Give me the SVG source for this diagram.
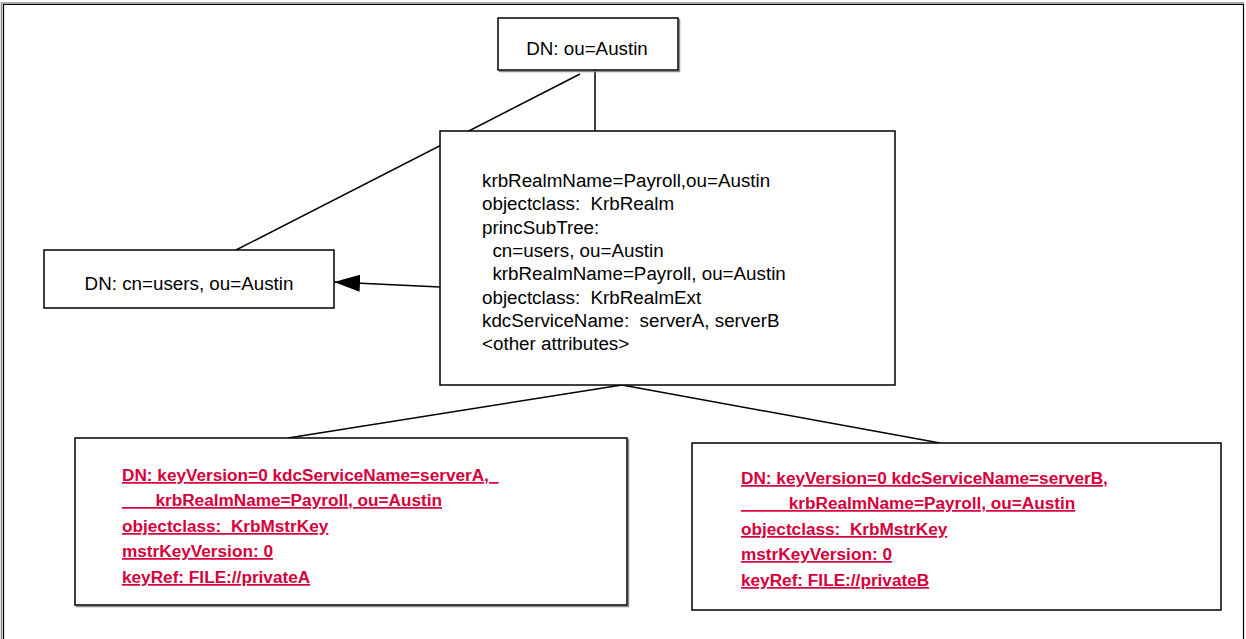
<svg xmlns="http://www.w3.org/2000/svg" width="1246" height="639" viewBox="0 0 1246 639">
  <style>
    .box { fill: #ffffff; stroke: #000000; stroke-width: 1.5; }
    .shadow { fill: none; stroke: #8a8a8a; stroke-width: 1.5; }
    .wire { fill: none; stroke: #000000; stroke-width: 1.5; }
    .label { font-family: "Liberation Sans", Arial, sans-serif; font-size: 18.8px; fill: #000000; white-space: pre; }
    .key { font-family: "Liberation Sans", Arial, sans-serif; font-size: 17.2px; font-weight: bold; fill: #d6003c; text-decoration: underline; white-space: pre; }
  </style>
  <defs>
    <marker id="arrow" viewBox="0 0 26 17" refX="26" refY="8.5" markerWidth="26" markerHeight="17" markerUnits="userSpaceOnUse" orient="auto">
      <path d="M0,0 L26,8.5 L0,17 Z" fill="#000000"/>
    </marker>
  </defs>

  <rect width="1246" height="639" fill="#ffffff"/>

  <!-- outer frame -->
  <g id="frame">
    <path class="shadow" d="M1.5,650 V3 H1244"/>
    <path d="M3.5,650 V4.5 H1243.5 V650" fill="none" stroke="#000000" stroke-width="1.2"/>
  </g>

  <!-- connectors -->
  <g id="connectors">
    <line class="wire" x1="595" y1="70" x2="595" y2="131"/>
    <line class="wire" x1="580" y1="74" x2="236" y2="250"/>
    <line class="wire" x1="440" y1="287" x2="334" y2="282" marker-end="url(#arrow)"/>
    <line class="wire" x1="622" y1="385" x2="288" y2="438"/>
    <line class="wire" x1="622" y1="385" x2="940" y2="443"/>
  </g>

  <!-- ou=Austin -->
  <g id="node-austin">
    <path class="shadow" d="M499,71.5 H679.5 V19"/>
    <rect class="box" x="498" y="18" width="180" height="52"/>
    <text class="label" x="587" y="55" text-anchor="middle">DN: ou=Austin</text>
  </g>

  <!-- cn=users -->
  <g id="node-users">
    <rect class="box" x="44" y="250" width="290" height="58"/>
    <text class="label" x="189" y="290" text-anchor="middle">DN: cn=users, ou=Austin</text>
  </g>

  <!-- realm entry -->
  <g id="node-realm">
    <rect class="box" x="440" y="131" width="455" height="254"/>
    <text class="label" xml:space="preserve"><tspan x="482" y="187">krbRealmName=Payroll,ou=Austin</tspan><tspan x="482" y="210.3">objectclass:  KrbRealm</tspan><tspan x="482" y="233.6">princSubTree:</tspan><tspan x="482" y="256.9">  cn=users, ou=Austin</tspan><tspan x="482" y="280.2">  krbRealmName=Payroll, ou=Austin</tspan><tspan x="482" y="303.5">objectclass:  KrbRealmExt</tspan><tspan x="482" y="326.8">kdcServiceName:  serverA, serverB</tspan><tspan x="482" y="350">&lt;other attributes&gt;</tspan></text>
  </g>

  <!-- master key for serverA -->
  <g id="node-keyA">
    <path class="shadow" d="M76,606.5 H628.5 V439"/>
    <rect class="box" x="75" y="438" width="552" height="167"/>
    <text class="key" xml:space="preserve"><tspan x="122" y="481">DN: keyVersion=0 kdcServiceName=serverA,  </tspan><tspan x="122" y="506">       krbRealmName=Payroll, ou=Austin</tspan><tspan x="122" y="532">objectclass:  KrbMstrKey</tspan><tspan x="122" y="557">mstrKeyVersion: 0</tspan><tspan x="122" y="583">keyRef: FILE://privateA</tspan></text>
  </g>

  <!-- master key for serverB -->
  <g id="node-keyB">
    <rect class="box" x="692" y="443" width="529" height="167"/>
    <text class="key" xml:space="preserve"><tspan x="741" y="484">DN: keyVersion=0 kdcServiceName=serverB,</tspan><tspan x="741" y="509">          krbRealmName=Payroll, ou=Austin</tspan><tspan x="741" y="535">objectclass:  KrbMstrKey</tspan><tspan x="741" y="560">mstrKeyVersion: 0</tspan><tspan x="741" y="586">keyRef: FILE://privateB</tspan></text>
  </g>
</svg>
